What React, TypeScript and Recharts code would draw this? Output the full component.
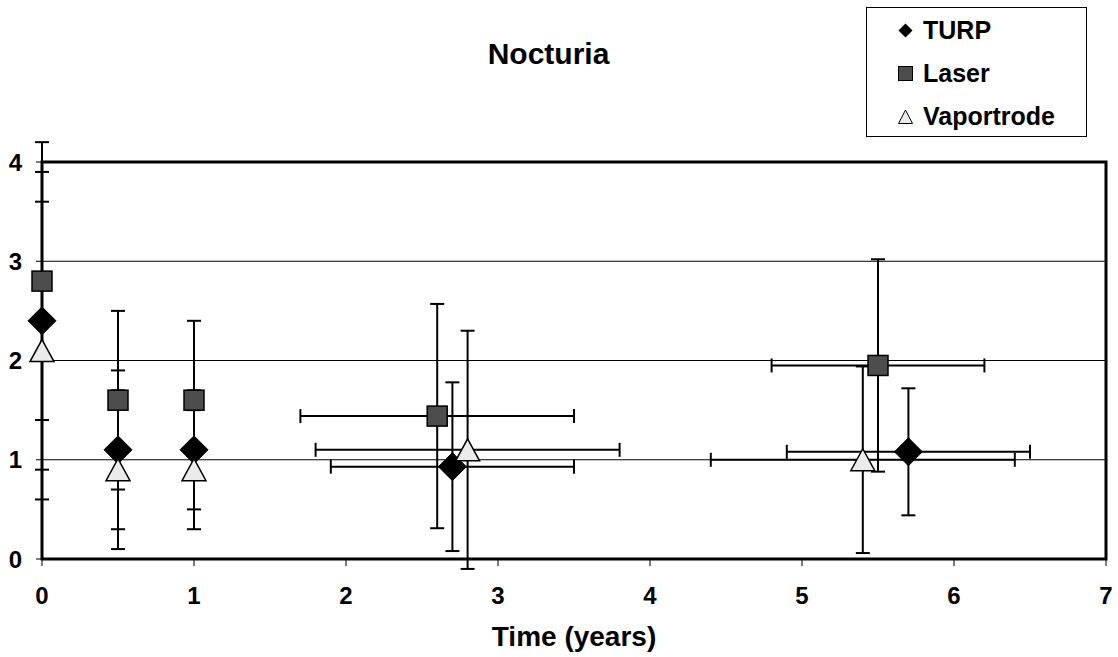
import React from 'react';
import { ScatterChart, Scatter, XAxis, YAxis, CartesianGrid, ErrorBar, ReferenceArea } from 'recharts';

// Nocturia score over time for each treatment arm (mean with SD bars)
const turpTime = [0, 0.5, 1, 2.7, 5.7];
const turpScore = [2.4, 1.1, 1.1, 0.93, 1.08];
const turpScoreErr = [1.5, 0.8, 0.6, 0.85, 0.64];
const turpTimeErr = [0, 0, 0, 0.8, 0.8];

const laserTime = [0, 0.5, 1, 2.6, 5.5];
const laserScore = [2.8, 1.6, 1.6, 1.44, 1.95];
const laserScoreErr = [1.4, 0.9, 0.8, 1.13, 1.07];
const laserTimeErr = [0, 0, 0, 0.9, 0.7];

const vapTime = [0, 0.5, 1, 2.8, 5.4];
const vapScore = [2.1, 0.9, 0.9, 1.1, 1.0];
const vapScoreErr = [1.5, 0.8, 0.6, 1.2, 0.94];
const vapTimeErr = [0, 0, 0, 1.0, 1.0];

const xTicks = [0, 1, 2, 3, 4, 5, 6, 7];
const yTicks = [0, 1, 2, 3, 4];

const build = (xs: number[], ys: number[], ey: number[], ex: number[]) =>
  xs.map((x, i) => ({ x, y: ys[i], ey: ey[i], ex: ex[i] || null }));

const turpData = build(turpTime, turpScore, turpScoreErr, turpTimeErr);
const laserData = build(laserTime, laserScore, laserScoreErr, laserTimeErr);
const vapData = build(vapTime, vapScore, vapScoreErr, vapTimeErr);

const FONT = '"Liberation Sans", Arial, sans-serif';

const Diamond = ({ cx, cy }: any) => (
  <polygon
    points={`${cx},${cy - 14} ${cx + 14},${cy} ${cx},${cy + 14} ${cx - 14},${cy}`}
    fill="#000"
    stroke="#000"
    strokeWidth={1}
  />
);

const Square = ({ cx, cy }: any) => (
  <rect x={cx - 10} y={cy - 10} width={20} height={20} fill="#4d4d4d" stroke="#000" strokeWidth={1.5} />
);

const Triangle = ({ cx, cy }: any) => (
  <polygon
    points={`${cx},${cy - 11} ${cx + 12},${cy + 11} ${cx - 12},${cy + 11}`}
    fill="#ebebeb"
    stroke="#000"
    strokeWidth={1.5}
  />
);

const legendItems = [
  { name: 'TURP', icon: <polygon points="7.5,0.5 14.5,7.5 7.5,14.5 0.5,7.5" fill="#000" /> },
  { name: 'Laser', icon: <rect x={0.5} y={0.5} width={14} height={14} fill="#4d4d4d" stroke="#000" strokeWidth={1} /> },
  { name: 'Vaportrode', icon: <polygon points="7.5,1 14.5,14.5 0.5,14.5" fill="#ebebeb" stroke="#000" strokeWidth={1} /> },
];

const tickStyle = { fontFamily: FONT, fontWeight: 700, fontSize: 24, fill: '#000' };

export default function App() {
  return (
    <div style={{ position: 'absolute', left: 0, top: 0, width: 1118, height: 657, background: '#fff' }}>
      {/* markers sitting on the axes must not be cut in half by the plot clip */}
      <style>{'.recharts-wrapper g[clip-path] { clip-path: none; }'}</style>
      <div
        style={{
          position: 'absolute', left: 0, width: 1097, top: 37, textAlign: 'center',
          fontFamily: FONT, fontWeight: 700, fontSize: 30, lineHeight: '34px',
        }}
      >
        Nocturia
      </div>
      <div
        style={{
          position: 'absolute', left: 866, top: 7, width: 221, height: 130,
          border: '1px solid #000', boxSizing: 'border-box', background: '#fff',
          fontFamily: FONT, fontWeight: 700, fontSize: 25, zIndex: 2,
        }}
      >
        {legendItems.map((it, i) => (
          <div
            key={it.name}
            style={{ position: 'absolute', left: 31, top: 7 + i * 43, height: 30, lineHeight: '30px', display: 'flex', alignItems: 'center' }}
          >
            <svg width={15} height={15} style={{ marginRight: 10 }}>{it.icon}</svg>
            <span>{it.name}</span>
          </div>
        ))}
      </div>
      <ScatterChart width={1118} height={657} margin={{ top: 162, right: 12, bottom: 0, left: 0 }}>
        <CartesianGrid horizontal vertical={false} stroke="#000" strokeWidth={1} />
        <XAxis
          type="number"
          dataKey="x"
          domain={[0, 7]}
          ticks={xTicks}
          allowDataOverflow
          height={98}
          axisLine={false}
          tickLine={{ stroke: '#000' }}
          tickSize={7}
          tickMargin={21}
          tick={tickStyle}
          label={{ value: 'Time (years)', position: 'insideBottom', offset: 11, style: { ...tickStyle, fontSize: 28 } }}
        />
        <YAxis
          type="number"
          dataKey="y"
          domain={[0, 4]}
          ticks={yTicks}
          allowDataOverflow
          width={42}
          axisLine={false}
          tickLine={{ stroke: '#000' }}
          tickSize={6}
          tickMargin={14}
          tick={tickStyle}
        />
        <ReferenceArea x1={0} x2={7} y1={0} y2={4} fill="none" stroke="#000" strokeWidth={3} ifOverflow="visible" />
        <Scatter name="TURP" data={turpData} shape={Diamond} isAnimationActive={false}>
          <ErrorBar dataKey="ey" direction="y" width={7} stroke="#000" strokeWidth={2} />
          <ErrorBar dataKey="ex" direction="x" width={7} stroke="#000" strokeWidth={2} />
        </Scatter>
        <Scatter name="Laser" data={laserData} shape={Square} isAnimationActive={false}>
          <ErrorBar dataKey="ey" direction="y" width={7} stroke="#000" strokeWidth={2} />
          <ErrorBar dataKey="ex" direction="x" width={7} stroke="#000" strokeWidth={2} />
        </Scatter>
        <Scatter name="Vaportrode" data={vapData} shape={Triangle} isAnimationActive={false}>
          <ErrorBar dataKey="ey" direction="y" width={7} stroke="#000" strokeWidth={2} />
          <ErrorBar dataKey="ex" direction="x" width={7} stroke="#000" strokeWidth={2} />
        </Scatter>
      </ScatterChart>
    </div>
  );
}
